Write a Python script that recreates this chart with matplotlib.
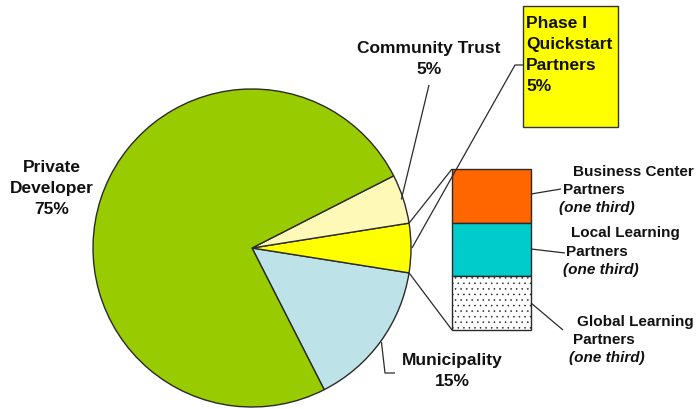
import numpy as np
import matplotlib.pyplot as plt
from matplotlib.patches import Rectangle

plt.rcParams['font.family'] = ['Liberation Sans', 'DejaVu Sans']
plt.rcParams['hatch.color'] = '#9a9a9a'
plt.rcParams['hatch.linewidth'] = 0.4

# funding shares, in percent, going round the pie
pie_names = ['Municipality', 'Phase I\nQuickstart\nPartners', 'Community Trust', 'Private\nDeveloper']
pie_values = [15, 5, 5, 75]
pie_colors = ['#bde3e8', '#ffff00', '#fff9b8', '#99cc00']

# how the Phase I share is split between partners
partner_names = ['Business Center', 'Local Learning', 'Global Learning']
partner_parts = [1, 1, 1]
partner_colors = ['#ff6600', '#00cccc', 'white']
partner_hatch = [None, None, '...']

W, H = 697, 409
CX, CY, R = 252, 248, 159          # pie centre/radius in pixel units (y grows downwards)
BAR_X, BAR_W, BAR_TOP, BAR_H = 452, 79, 169, 161
LINE = '#2a2a2a'

fig = plt.figure(figsize=(W / 100, H / 100), dpi=100)
ax = fig.add_axes([0, 0, 1, 1])

# y axis is flipped below, so go clockwise here to get a counter-clockwise pie on screen
wedges, _ = ax.pie(pie_values, colors=pie_colors, startangle=63, counterclock=False,
                   center=(CX, CY), radius=R, frame=True,
                   wedgeprops=dict(edgecolor=LINE, linewidth=1.0))
ax.set_xlim(0, W)
ax.set_ylim(H, 0)
ax.axis('off')

cum = np.concatenate([[0], np.cumsum(pie_values)])
theta = 63 - 360 * cum / cum[-1]
mid = (theta[:-1] + theta[1:]) / 2


def edge(t, r=R):
    a = np.radians(t)
    return CX + r * np.cos(a), CY + r * np.sin(a)


def leader(*pts):
    xs, ys = zip(*pts)
    ax.plot(xs, ys, color=LINE, lw=0.9, solid_capstyle='butt')


bold = dict(fontweight='bold', fontsize=12.5, color='#111111', linespacing=1.5)

# pie labels
ax.text(52, 188, f'{pie_names[3]}\n{pie_values[3]}%', ha='center', va='center', **bold)
ax.text(429, 59, f'{pie_names[2]}\n{pie_values[2]}%', ha='center', va='center', **bold)
ax.text(452, 371, f'{pie_names[0]}\n{pie_values[0]}%', ha='center', va='center', **bold)
leader(edge(mid[2], R - 2), (429, 85))
leader(edge(mid[0], R + 1), (385, 373), (395, 373))

# Phase I call-out box
ax.add_patch(Rectangle((523, 6), 95, 121, facecolor='#ffff00', edgecolor='#333333', lw=1.0))
ax.text(526, 55, f'{pie_names[1]}\n{pie_values[1]}%', ha='left', va='center', **bold)
leader(edge(mid[1], R + 1), (515, 65), (523, 65))

# stacked bar breaking down the Phase I slice
parts = np.array(partner_parts, dtype=float)
heights = parts / parts.sum() * BAR_H
bottoms = BAR_TOP + np.concatenate([[0], np.cumsum(heights)[:-1]])
ax.bar([BAR_X + BAR_W / 2] * 3, heights, bottom=bottoms, width=BAR_W,
       color=partner_colors, edgecolor=LINE, linewidth=1.0, hatch=partner_hatch)
leader(edge(theta[2]), (BAR_X, BAR_TOP))
leader(edge(theta[1]), (BAR_X, BAR_TOP + BAR_H))

# partner labels, each line offset a little like the original layout
small = dict(fontweight='bold', fontsize=11, color='#111111', ha='left', va='center')
label_rows = [
    ((573, 172), (563, 190), (559, 208)),
    ((571, 233), (566, 252), (563, 270)),
    ((577, 322), (573, 340), (569, 358)),
]
ends = [((531, 194), (561, 189)), ((531, 249), (565, 253)), ((531, 303), (563, 330))]
for name, rows, seg in zip(partner_names, label_rows, ends):
    ax.text(*rows[0], name, **small)
    ax.text(*rows[1], 'Partners', **small)
    ax.text(*rows[2], '(one third)', style='italic', **small)
    leader(*seg)

fig.savefig('out.png', dpi=100)
